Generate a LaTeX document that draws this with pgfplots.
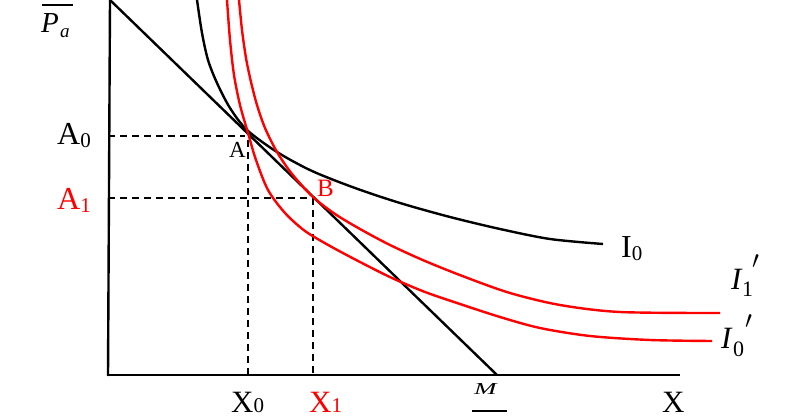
\documentclass[border=0pt]{standalone}
\usepackage{pgfplots}
\pgfplotsset{compat=1.18}
\usepackage{fontspec}
\setmainfont{Liberation Serif}
\definecolor{myred}{RGB}{255,0,0}
\newcommand\sub[1]{\raisebox{-3pt}{\fontsize{21}{21}\selectfont #1}}
\newcommand\subb[1]{{\fontsize{21}{21}\selectfont #1}}
\begin{document}
\begin{tikzpicture}
\begin{axis}[name=ax, x=1pt, y=1pt, xmin=0, xmax=797, ymin=0, ymax=419,
  y dir=reverse, hide axis, clip=false, anchor=south west, at={(0,0)}]
% axes
\addplot[black, line width=2.4pt] coordinates {(110,0) (108,376)};
\addplot[black, line width=2.4pt] coordinates {(107,375) (680,375)};
% budget line
\addplot[black, line width=2.4pt] coordinates {(110,0) (497,375)};
% dashed guides
\addplot[black, line width=2.2pt, dash pattern=on 7pt off 5pt] coordinates {(108,136) (245,136)};
\addplot[black, line width=2.2pt, dash pattern=on 7pt off 5pt] coordinates {(248,140) (248,375)};
\addplot[black, line width=2.2pt, dash pattern=on 7pt off 5pt] coordinates {(108,198) (313,198)};
\addplot[black, line width=2.2pt, dash pattern=on 7pt off 5pt] coordinates {(313,198) (313,375)};
% I0
\addplot[black, line width=2.4pt, smooth] coordinates {
(197,0) (202,33) (208,60) (217,83) (230,108) (247,130) (277,152) (312,171)
(355,188) (400,203) (450,217) (500,229) (550,239) (603,244)};
% I0' (inner red)
\addplot[myred, line width=2.4pt, smooth] coordinates {
(227,0) (230,40) (234,75) (240,105) (248,133) (256,160) (268,190) (285,213)
(305,231) (330,246) (360,262) (392,278) (425,292) (460,304) (500,317)
(540,328) (590,336) (650,340) (712,341)};
% I1' (outer red)
\addplot[myred, line width=2.4pt, smooth] coordinates {
(239,0) (242,30) (246,58) (251,82) (257,105) (265,128) (277,152) (292,174)
(313,197) (335,214) (360,229) (390,245) (425,261) (465,277) (510,293)
(560,305) (620,312) (720,313)};
% labels
\node[anchor=base west, inner sep=0pt, font=\fontsize{32}{32}\selectfont] at (axis cs:57,145) {A\sub{0}};
\node[anchor=base west, inner sep=0pt, font=\fontsize{32}{32}\selectfont, text=myred] at (axis cs:57,210) {A\sub{1}};
\node[anchor=base west, inner sep=0pt, font=\fontsize{23}{23}\selectfont] at (axis cs:229,158) {A};
\node[anchor=base west, inner sep=0pt, font=\fontsize{25}{25}\selectfont, text=myred] at (axis cs:317,197) {B};
\node[anchor=base west, inner sep=0pt, font=\fontsize{31}{31}\selectfont] at (axis cs:231,412) {X\subb{0}};
\node[anchor=base west, inner sep=0pt, font=\fontsize{31}{31}\selectfont, text=myred] at (axis cs:309,412) {X\subb{1}};
\node[anchor=base west, inner sep=0pt, font=\fontsize{31}{31}\selectfont] at (axis cs:662,412) {X};
\node[anchor=base west, inner sep=0pt, font=\fontsize{32}{32}\selectfont] at (axis cs:621,258) {I\sub{0}};
% M with fraction bar
\node[anchor=base west, inner sep=0pt, font=\fontsize{27}{27}\selectfont] at (axis cs:474,394) {\scalebox{1}[0.62]{\itshape M}};
\addplot[black, line width=1.4pt] coordinates {(472,411) (507,411)};
% P_a with fraction bar
\addplot[black, line width=1.4pt] coordinates {(42,5) (73,5)};
\node[anchor=base west, inner sep=0pt, font=\fontsize{29}{29}\selectfont\itshape] at (axis cs:41,33) {P};
\node[anchor=base west, inner sep=0pt, font=\fontsize{19}{19}\selectfont\itshape] at (axis cs:60,38) {a};
% I1'
\node[anchor=base west, inner sep=0pt, font=\fontsize{31}{31}\selectfont\itshape] at (axis cs:731,290) {I};
\node[anchor=base west, inner sep=0pt, font=\fontsize{22}{22}\selectfont] at (axis cs:742,297) {1};
\node[anchor=north west, inner sep=0pt, font=\fontsize{25}{25}\selectfont] at (axis cs:752,254) {$\prime$};
% I0'
\node[anchor=base west, inner sep=0pt, font=\fontsize{31}{31}\selectfont\itshape] at (axis cs:721,348) {I};
\node[anchor=base west, inner sep=0pt, font=\fontsize{22}{22}\selectfont] at (axis cs:733,356) {0};
\node[anchor=north west, inner sep=0pt, font=\fontsize{25}{25}\selectfont] at (axis cs:745,314) {$\prime$};
\end{axis}
\pgfresetboundingbox
\path (ax.south west) rectangle (ax.north east);
\end{tikzpicture}
\end{document}
